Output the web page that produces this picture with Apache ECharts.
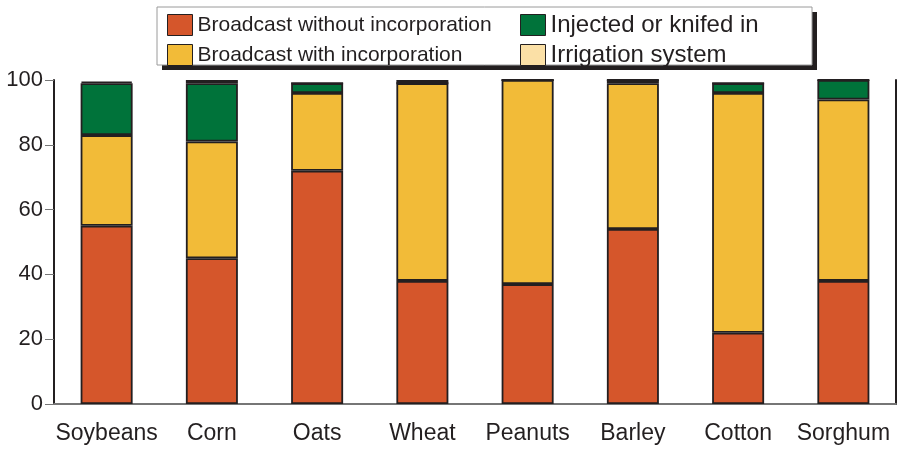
<!DOCTYPE html>
<html>
<head>
<meta charset="utf-8">
<style>
  html, body { margin: 0; padding: 0; background: #fff; }
  #chart { width: 899px; height: 451px; }
</style>
<script src="https://cdn.jsdelivr.net/npm/echarts@6/dist/echarts.min.js"></script>
</head>
<body>
<div id="chart"></div>
<script>
// crops along the x axis
const categories = ['Soybeans', 'Corn', 'Oats', 'Wheat', 'Peanuts', 'Barley', 'Cotton', 'Sorghum']

// percent of acres by application method
const broadcastWithout = [55, 45, 72, 38, 37, 54, 22, 38]
const broadcastWith = [28, 36, 24, 61, 63, 45, 74, 56]
const injected = [16, 18, 3, 0, 0, 1, 3, 6]
const irrigation = [0.5, 1, 0, 1, 0, 0, 0, 0]

const yTicks = [0, 20, 40, 60, 80, 100]

const FONT = '"Liberation Sans", Arial, sans-serif'
const EDGE = '#231f20'

const chart = echarts.init(document.getElementById('chart'))

const seg = (name, data, color) => ({
  name,
  type: 'bar',
  stack: 'total',
  barWidth: 52,
  data,
  itemStyle: { color, borderColor: EDGE, borderWidth: 1.8 },
  emphasis: { disabled: true }
})

const legendBase = {
  orient: 'vertical',
  top: 10,
  padding: 0,
  icon: 'rect',
  itemWidth: 25,
  itemHeight: 21,
  itemGap: 0,
  z: 5,
  itemStyle: { borderColor: EDGE, borderWidth: 1 }
}

const option = {
  animation: false,
  grid: { left: 54, right: 3, top: 80, bottom: 47 },
  graphic: [
    // legend box with its hard shadow
    { type: 'rect', shape: { x: 162, y: 12, width: 655, height: 58 }, style: { fill: EDGE }, z: 1 },
    { type: 'rect', shape: { x: 157, y: 7, width: 655, height: 58 }, style: { fill: '#fff', stroke: '#9a9a9a', lineWidth: 1 }, z: 2 }
  ],
  legend: [
    Object.assign({}, legendBase, {
      data: ['Broadcast without incorporation', 'Broadcast with incorporation'],
      left: 167,
      textStyle: { fontFamily: FONT, fontSize: 21, lineHeight: 30, color: EDGE }
    }),
    Object.assign({}, legendBase, {
      data: ['Injected or knifed in', 'Irrigation system'],
      left: 520,
      textStyle: { fontFamily: FONT, fontSize: 24, lineHeight: 30, color: EDGE }
    })
  ],
  xAxis: [
    {
      type: 'category',
      data: categories,
      axisLine: { lineStyle: { color: '#3a3a3a', width: 2 } },
      axisTick: { alignWithLabel: true, length: 7, lineStyle: { color: '#555' } },
      axisLabel: { interval: 0, margin: 18, fontFamily: FONT, fontSize: 23, color: EDGE }
    },
    {
      type: 'category',
      position: 'top',
      data: categories,
      axisLine: { lineStyle: { color: '#8a8a8a', width: 1.5 } },
      axisTick: { show: false },
      axisLabel: { show: false }
    }
  ],
  yAxis: [
    {
      type: 'value',
      min: yTicks[0],
      max: yTicks[yTicks.length - 1],
      interval: 20,
      axisLine: { show: true, lineStyle: { color: EDGE, width: 2 } },
      axisTick: { show: true, length: 9, lineStyle: { color: '#777' } },
      axisLabel: { margin: 11, fontFamily: FONT, fontSize: 22, color: EDGE },
      splitLine: { show: false }
    },
    {
      type: 'value',
      position: 'right',
      min: 0,
      max: 100,
      interval: 20,
      axisLine: { show: true, lineStyle: { color: EDGE, width: 2 } },
      axisTick: { show: false },
      axisLabel: { show: false },
      splitLine: { show: false }
    }
  ],
  series: [
    seg('Broadcast without incorporation', broadcastWithout, '#d5562b'),
    seg('Broadcast with incorporation', broadcastWith, '#f2bb38'),
    seg('Injected or knifed in', injected, '#00733a'),
    seg('Irrigation system', irrigation, '#fbe0a6')
  ]
}

chart.setOption(option)
window.addEventListener('resize', () => chart.resize())
</script>
</body>
</html>
